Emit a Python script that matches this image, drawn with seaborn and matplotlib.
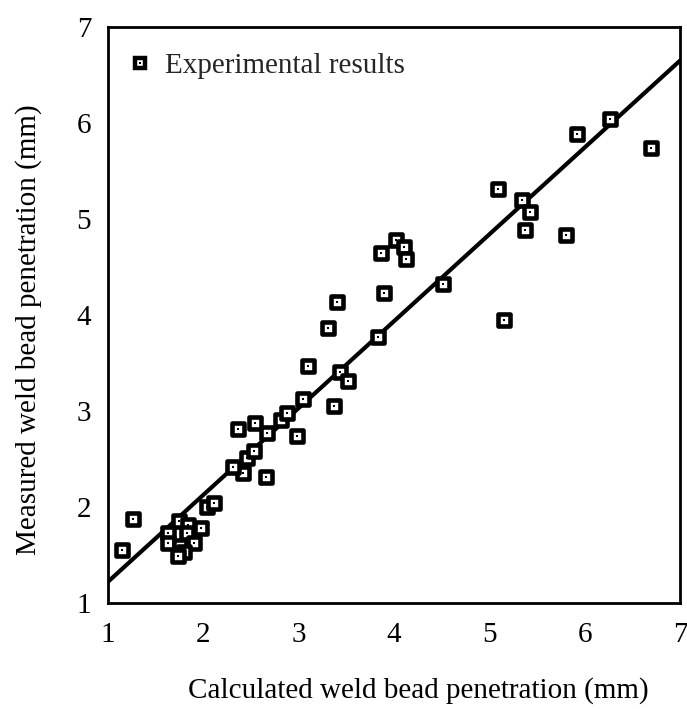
import matplotlib
matplotlib.use("Agg")
import matplotlib.pyplot as plt
from matplotlib.lines import Line2D
from matplotlib.legend_handler import HandlerTuple
import seaborn as sns
import pandas as pd

calc_x = [1.15, 1.26, 1.63, 1.63, 1.75, 1.84, 1.83, 1.98, 1.90, 1.76, 1.80, 1.74,
          2.04, 2.11, 2.42, 2.66, 2.31, 2.46, 2.53, 2.36, 2.54, 2.67, 2.98, 2.82,
          2.88, 3.05, 3.37, 3.10, 3.43, 3.52, 3.31, 3.40, 3.83, 3.90, 3.86, 4.02,
          4.11, 4.13, 4.51, 5.09, 5.34, 5.43, 5.37, 5.80, 5.15, 5.92, 6.26, 6.69]
meas_y = [1.55, 1.87, 1.73, 1.62, 1.85, 1.81, 1.73, 1.78, 1.62, 1.59, 1.53, 1.49,
          2.00, 2.04, 2.35, 2.31, 2.42, 2.51, 2.58, 2.81, 2.87, 2.77, 2.74, 2.91,
          2.98, 3.12, 3.05, 3.47, 3.41, 3.31, 3.86, 4.14, 3.77, 4.23, 4.65, 4.78,
          4.71, 4.58, 4.32, 5.31, 5.20, 5.07, 4.89, 4.83, 3.95, 5.89, 6.04, 5.74]
fit_x = [1.0, 7.0]
fit_y = [1.22, 6.65]

df = pd.DataFrame({"calc": calc_x, "meas": meas_y})
fit = pd.DataFrame({"x": fit_x, "y": fit_y})

sns.set_theme(style="white")
plt.rcParams["font.family"] = ["Liberation Serif", "DejaVu Serif"]

fig = plt.figure(figsize=(6.87, 7.09), dpi=100)
ax = fig.add_axes([0.157, 0.1495, 0.833, 0.8125])

sns.lineplot(data=fit, x="x", y="y", ax=ax, color="black", lw=3.0, zorder=2)
sns.scatterplot(data=df, x="calc", y="meas", ax=ax, marker="s", s=64,
                facecolor="white", edgecolor="black", linewidth=3.3, zorder=3)
sns.scatterplot(data=df, x="calc", y="meas", ax=ax, marker="s", s=3,
                color="black", edgecolor="black", linewidth=0, zorder=4)

ax.set_xlim(1, 7)
ax.set_ylim(1, 7)
ax.set_xticks([1, 2, 3, 4, 5, 6, 7])
ax.set_yticks([1, 2, 3, 4, 5, 6, 7])
ax.tick_params(direction="in", length=10, width=2, labelsize=21, colors="black")
ax.tick_params(axis="x", pad=14)
ax.tick_params(axis="y", pad=12)
for sp in ax.spines.values():
    sp.set_visible(True)
    sp.set_color("black")
    sp.set_linewidth(2.0)

ax.set_xlabel("Calculated weld bead penetration (mm)", fontsize=21, color="black")
ax.set_ylabel("Measured weld bead penetration (mm)", fontsize=21, color="black")
ax.xaxis.set_label_coords(0.542, -0.128)
ax.yaxis.set_label_coords(-0.115, 0.474)

h_sq = Line2D([], [], marker="s", ls="none", markersize=7.2, markerfacecolor="white",
              markeredgecolor="black", markeredgewidth=3.2)
h_dot = Line2D([], [], marker="s", ls="none", markersize=1.6, markerfacecolor="black",
               markeredgecolor="black", markeredgewidth=0)
ax.legend([(h_sq, h_dot)], ["Experimental results"],
          handler_map={tuple: HandlerTuple(ndivide=1)},
          loc="upper left", bbox_to_anchor=(0.0406, 0.955), frameon=False, fontsize=21,
          handlelength=0.6, handletextpad=0.56, borderaxespad=0, borderpad=0)

fig.savefig("out.png", dpi=100)
